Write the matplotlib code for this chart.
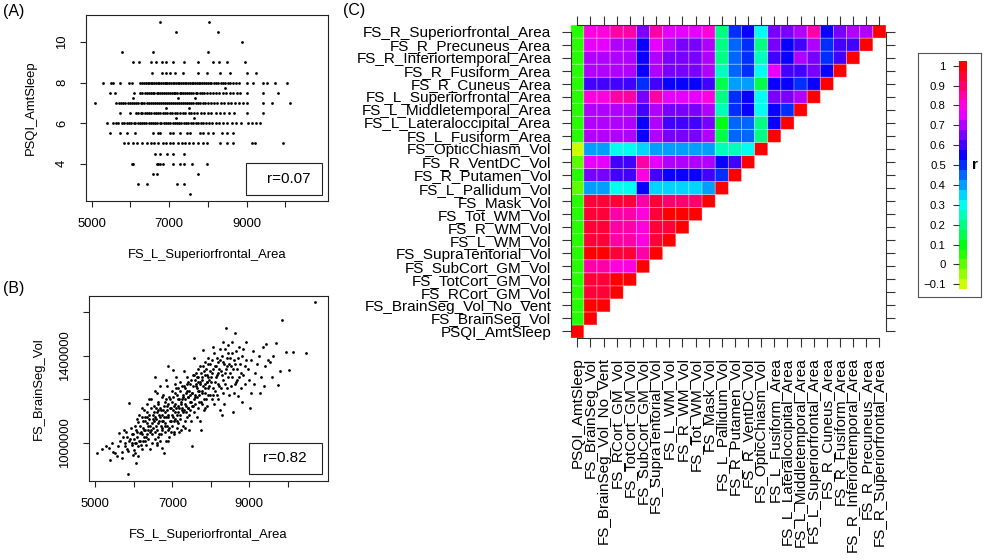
import numpy as np
import matplotlib
matplotlib.use('Agg')
import matplotlib.pyplot as plt
from matplotlib import colors
from matplotlib.patches import Rectangle

plt.rcParams['font.family'] = ['Liberation Sans', 'DejaVu Sans']

# (A) PSQI_AmtSleep against FS_L_Superiorfrontal_Area, x values read per sleep level
sleep_levels = [11, 10.5, 10, 9.5, 9, 8.5, 8, 7.75, 7.5, 7.25, 7, 6.75, 6.5, 6.25,
                6, 5.5, 5, 4.5, 4, 3.5, 3, 2.5]
area_by_level = [
    [6760, 8040],
    [7170, 8270],
    [8890],
    [5770, 6590, 8010],
    [6075, 6230, 6520, 6660, 6810, 6930, 7090, 7370, 7750, 8140, 8290, 8480, 8960],
    [6550, 6810, 6930, 7020, 7150, 7350, 7750, 7970, 8310, 8570, 9000, 9240],
    [5300, 5490, 5560, 5730, 5950, 6030, 6250, 6300, 6340, 6390, 6450, 6480, 6530,
     6560, 6610, 6650, 6700, 6740, 6790, 6830, 6880, 6920, 6950, 7000, 7040, 7090,
     7130, 7180, 7220, 7260, 7310, 7350, 7400, 7440, 7490, 7530, 7580, 7620, 7660,
     7710, 7760, 7800, 7850, 7900, 7940, 7990, 8050, 8090, 8160, 8220, 8270, 8330,
     8390, 8450, 8520, 8580, 8650, 8730, 8800, 9000, 9170, 9430, 9520, 9730, 10030],
    [8440],
    [5470, 5600, 6080, 6250, 6310, 6370, 6420, 6470, 6530, 6570, 6620, 6680, 6720,
     6770, 6820, 6870, 6910, 6960, 7010, 7070, 7120, 7160, 7210, 7270, 7310, 7360,
     7420, 7460, 7510, 7570, 7620, 7680, 7730, 7790, 7850, 7910, 7980, 8060, 8130,
     8200, 8290, 8380, 8470, 8560, 8650, 8740, 8830, 9000, 9430, 9820],
    [6060, 7240, 7670],
    [5090, 5640, 5700, 5760, 5820, 5870, 5930, 5990, 6040, 6100, 6150, 6200, 6260,
     6310, 6360, 6420, 6470, 6520, 6570, 6630, 6680, 6730, 6780, 6840, 6890, 6940,
     6990, 7050, 7100, 7150, 7200, 7260, 7310, 7360, 7410, 7470, 7520, 7570, 7620,
     7680, 7740, 7800, 7870, 7930, 8000, 8080, 8160, 8240, 8330, 8420, 8510, 8600,
     8700, 8800, 8900, 9000, 9430, 9650, 10120],
    [6920, 7500],
    [5730, 5990, 6140, 6200, 6260, 6310, 6370, 6420, 6480, 6540, 6600, 6650, 6710,
     6770, 6830, 6890, 6950, 7010, 7080, 7150, 7210, 7280, 7350, 7420, 7500, 7570,
     7650, 7730, 7810, 7900, 7990, 8090, 8200, 8310, 8420, 8540, 8660, 9000, 9430],
    [7170, 7640],
    [5390, 5560, 5620, 5690, 5770, 5840, 5900, 5960, 6020, 6080, 6130, 6190, 6250,
     6300, 6360, 6410, 6470, 6520, 6580, 6640, 6690, 6750, 6800, 6860, 6920, 6970,
     7030, 7090, 7140, 7200, 7260, 7310, 7370, 7430, 7490, 7550, 7610, 7680, 7740,
     7810, 7880, 7950, 8030, 8110, 8200, 8290, 8390, 8500, 8620, 8730, 8840, 9040,
     9130, 9230, 9340],
    [5473, 5731, 5903, 6118, 6591, 6720, 6763, 7021, 7107, 7279, 7451, 7537, 7795,
     7881, 8010, 8139, 8354, 8483, 8655],
    [5834, 5946, 6058, 6161, 6290, 6419, 6523, 6609, 6720, 6832, 6918, 7021, 7107,
     7219, 7322, 7417, 7520, 7623, 7752, 7864, 7968, 8312, 8484, 8656, 9129, 9215, 9946],
    [6634, 6763, 6935, 7107, 7383],
    [6032, 6075, 6677, 6720, 6763, 6849, 7107, 7279, 7383, 7581, 7985],
    [6574, 6677, 7752],
    [6204, 6437, 7193, 7391],
    [7537],
]
r_sleep = 0.07

# (B) FS_BrainSeg_Vol (thousands) against FS_L_Superiorfrontal_Area
area_vol_pairs = [
    (5052, 954), (5286, 989), (5180, 975), (5390, 924), (5350, 980), (5450, 960),
    (5420, 1000), (5503, 954), (5563, 939), (5600, 985), (5650, 1010), (5700, 960),
    (5620, 1045), (5720, 1030), (5680, 930), (5850, 859), (5876, 1183), (5780, 1000),
    (5800, 1050), (5830, 975), (5900, 1020), (5950, 990), (5920, 1070), (5970, 945),
    (5880, 1010), (5990, 1040), (6066, 909), (6020, 1000), (6050, 1060), (6080, 1030),
    (6100, 985), (6120, 1095), (6150, 1045), (6170, 1010), (6200, 1120), (6220, 975),
    (6240, 1070), (6030, 955), (6130, 1130), (6190, 1050), (6110, 940), (6260, 1030),
    (6280, 1100), (6300, 1060), (6320, 990), (6340, 1140), (6360, 1080), (6380, 1020),
    (6400, 1110), (6420, 1050), (6440, 1160), (6460, 1000), (6480, 1090), (6300, 1010),
    (6350, 1120), (6410, 975), (6450, 1060), (6490, 1130), (6270, 1150), (6330, 1040),
    (6390, 1200), (6543, 1304), (6510, 1070), (6530, 1140), (6560, 1020), (6580, 1110),
    (6600, 1060), (6620, 1180), (6640, 1090), (6660, 1130), (6680, 1010), (6700, 1150),
    (6720, 1070), (6740, 1210), (6520, 1100), (6570, 1160), (6610, 990), (6650, 1040),
    (6690, 1120), (6730, 1100), (6590, 1230), (6710, 1040), (6630, 1150), (6786, 954),
    (6890, 1350), (6760, 1100), (6780, 1170), (6800, 1050), (6820, 1140), (6840, 1200),
    (6860, 1080), (6880, 1120), (6900, 1180), (6920, 1030), (6940, 1160), (6960, 1100),
    (6980, 1240), (6770, 1220), (6810, 1090), (6850, 1150), (6870, 1260), (6910, 1070),
    (6950, 1200), (6990, 1130), (6830, 1010), (6970, 1050), (7020, 1332), (7010, 1150),
    (7030, 1210), (7050, 1100), (7070, 1180), (7090, 1250), (7110, 1130), (7130, 1070),
    (7150, 1200), (7170, 1160), (7190, 1280), (7210, 1110), (7230, 1190), (7040, 1050),
    (7080, 1140), (7120, 1220), (7160, 1090), (7200, 1240), (7240, 1150), (7060, 1270),
    (7140, 1170), (7220, 1060), (7100, 1300), (7260, 1200), (7280, 1140), (7300, 1260),
    (7320, 1180), (7340, 1100), (7360, 1230), (7380, 1300), (7400, 1160), (7420, 1210),
    (7440, 1130), (7460, 1270), (7480, 1190), (7270, 1080), (7310, 1330), (7350, 1170),
    (7390, 1240), (7430, 1060), (7470, 1220), (7290, 1210), (7410, 1280), (7450, 1150),
    (7370, 1120), (7514, 985), (7566, 1388), (7520, 1230), (7540, 1170), (7580, 1290),
    (7600, 1210), (7620, 1320), (7640, 1250), (7660, 1160), (7680, 1280), (7700, 1220),
    (7720, 1350), (7740, 1190), (7530, 1310), (7570, 1140), (7610, 1260), (7650, 1300),
    (7690, 1240), (7730, 1100), (7560, 1200), (7670, 1340), (7710, 1280), (7800, 1426),
    (7740, 1061), (7760, 1300), (7780, 1240), (7820, 1330), (7840, 1270), (7860, 1370),
    (7880, 1200), (7900, 1310), (7920, 1250), (7940, 1360), (7960, 1290), (7980, 1220),
    (7770, 1180), (7810, 1350), (7850, 1230), (7890, 1280), (7930, 1390), (7970, 1330),
    (7830, 1150), (7910, 1170), (8010, 1300), (8030, 1380), (8050, 1250), (8070, 1340),
    (8090, 1410), (8110, 1280), (8130, 1350), (8150, 1220), (8170, 1390), (8190, 1320),
    (8210, 1260), (8230, 1430), (8020, 1200), (8080, 1180), (8140, 1300), (8200, 1370),
    (8240, 1150), (8060, 1440), (8303, 1129), (8390, 1525), (8260, 1330), (8280, 1400),
    (8320, 1290), (8340, 1360), (8360, 1430), (8380, 1270), (8400, 1340), (8420, 1390),
    (8440, 1300), (8460, 1450), (8480, 1220), (8270, 1250), (8350, 1180), (8410, 1250),
    (8470, 1360), (8310, 1460), (8580, 1144), (8641, 1502), (8711, 1213), (8520, 1350),
    (8540, 1410), (8560, 1300), (8600, 1380), (8620, 1270), (8660, 1420), (8680, 1340),
    (8700, 1390), (8740, 1300), (8550, 1460), (8610, 1230), (8690, 1290), (8730, 1440),
    (8927, 1464), (8760, 1360), (8800, 1400), (8840, 1310), (8880, 1270), (8920, 1380),
    (8960, 1340), (8780, 1250), (8850, 1430), (8990, 1290), (8820, 1190), (9031, 1160),
    (9057, 1228), (9378, 1259), (9448, 1452), (9050, 1380), (9100, 1420), (9150, 1320),
    (9200, 1360), (9250, 1400), (9300, 1300), (9350, 1440), (9420, 1350), (9480, 1380),
    (9120, 1270), (9280, 1230), (9690, 1459), (9855, 1563), (9950, 1414), (10037, 1332),
    (10141, 1418), (10488, 1411), (9751, 1266), (9550, 1370), (9620, 1400), (9800, 1330),
    (9580, 1300), (10700, 1644),
    (6010, 1020), (6040, 1080), (6060, 1000), (6090, 1050), (6140, 1010), (6160, 1080),
    (6180, 990), (6210, 1040), (6230, 1100), (6250, 1010), (6270, 1060), (6290, 1120),
    (6310, 1030), (6330, 1090), (6370, 1060), (6390, 1130), (6430, 1080), (6470, 1040),
    (6500, 1110), (6520, 1170), (6540, 1050), (6560, 1120), (6580, 1080), (6600, 1140),
    (6620, 1030), (6640, 1190), (6660, 1100), (6680, 1160), (6700, 1080), (6720, 1130),
    (6740, 1060), (6760, 1150), (6780, 1120), (6800, 1190), (6820, 1080), (6840, 1120),
    (6860, 1170), (6880, 1060), (6900, 1130), (6920, 1210), (6940, 1100), (6960, 1160),
    (6980, 1080), (7000, 1190), (7020, 1120), (7040, 1170), (7060, 1110), (7080, 1230),
    (7100, 1160), (7120, 1100), (7140, 1250), (7160, 1140), (7180, 1200), (7200, 1130),
    (7220, 1180), (7240, 1260), (7260, 1160), (7280, 1220), (7300, 1150), (7320, 1250),
    (7340, 1200), (7360, 1140), (7380, 1270), (7400, 1210), (7420, 1160), (7440, 1240),
    (7460, 1190), (7480, 1290), (7500, 1230), (7520, 1170), (7540, 1260), (7560, 1310),
    (7580, 1220), (7600, 1180), (7620, 1270), (7640, 1210), (7660, 1300), (7680, 1240),
    (7700, 1190), (7720, 1270), (7740, 1320), (7760, 1230), (7780, 1290), (7800, 1260),
    (7820, 1200), (7840, 1310), (7860, 1250), (7880, 1340), (7900, 1280), (7920, 1220),
    (7940, 1300), (7960, 1260), (7980, 1360), (8000, 1280), (8040, 1320), (8100, 1350),
    (8120, 1240), (8160, 1310), (8180, 1270), (8220, 1340), (8250, 1380), (8290, 1310),
    (8330, 1370), (8370, 1320), (8430, 1350), (8450, 1410), (8490, 1320), (8510, 1390),
    (8570, 1340), (8630, 1360), (5760, 985), (5810, 1030), (5860, 965), (5940, 1040),
    (5960, 1000), (6000, 970), (5740, 1060), (6070, 1110), (6210, 1160), (6350, 1180),
    (6450, 1200), (6550, 1240), (6680, 1260), (6830, 1290), (6720, 980), (6600, 1000),
    (6880, 1010), (7050, 1040), (7180, 1050), (7330, 1070), (7490, 1100), (7640, 1120),
    (7860, 1160), (8060, 1220), (8190, 1200), (8320, 1230), (8520, 1260), (8660, 1280),
    (8780, 1320), (8900, 1350),
]
r_brain = 0.82

# (C) correlation matrix, lower triangle; row i holds r with variables 0..i
var_names = ['PSQI_AmtSleep', 'FS_BrainSeg_Vol', 'FS_BrainSeg_Vol_No_Vent',
             'FS_RCort_GM_Vol', 'FS_TotCort_GM_Vol', 'FS_SubCort_GM_Vol',
             'FS_SupraTentorial_Vol', 'FS_L_WM_Vol', 'FS_R_WM_Vol', 'FS_Tot_WM_Vol',
             'FS_Mask_Vol', 'FS_L_Pallidum_Vol', 'FS_R_Putamen_Vol', 'FS_R_VentDC_Vol',
             'FS_OpticChiasm_Vol', 'FS_L_Fusiform_Area', 'FS_L_Lateraloccipital_Area',
             'FS_L_Middletemporal_Area', 'FS_L_Superiorfrontal_Area', 'FS_R_Cuneus_Area',
             'FS_R_Fusiform_Area', 'FS_R_Inferiortemporal_Area', 'FS_R_Precuneus_Area',
             'FS_R_Superiorfrontal_Area']
corr_rows = [
    [1.0],
    [0.06, 1.0],
    [0.06, 0.99, 1.0],
    [0.05, 0.94, 0.94, 1.0],
    [0.05, 0.94, 0.94, 0.99, 1.0],
    [0.05, 0.85, 0.85, 0.78, 0.78, 1.0],
    [0.06, 0.98, 0.98, 0.95, 0.95, 0.84, 1.0],
    [0.05, 0.94, 0.94, 0.83, 0.83, 0.81, 0.94, 1.0],
    [0.05, 0.94, 0.94, 0.83, 0.83, 0.81, 0.94, 0.97, 1.0],
    [0.05, 0.94, 0.94, 0.83, 0.83, 0.82, 0.95, 0.98, 0.98, 1.0],
    [0.06, 0.95, 0.95, 0.93, 0.93, 0.83, 0.95, 0.9, 0.9, 0.9, 1.0],
    [0.02, 0.4, 0.38, 0.3, 0.3, 0.54, 0.36, 0.36, 0.36, 0.36, 0.38, 1.0],
    [0.03, 0.65, 0.65, 0.58, 0.58, 0.82, 0.59, 0.56, 0.56, 0.56, 0.58, 0.5, 1.0],
    [0.02, 0.73, 0.73, 0.61, 0.61, 0.85, 0.73, 0.72, 0.72, 0.72, 0.72, 0.54, 0.61, 1.0],
    [-0.08, 0.4, 0.38, 0.3, 0.3, 0.35, 0.38, 0.4, 0.4, 0.4, 0.42, 0.25, 0.23, 0.3, 1.0],
    [0.05, 0.7, 0.7, 0.7, 0.7, 0.55, 0.7, 0.63, 0.63, 0.63, 0.68, 0.17, 0.45, 0.47,
     0.22, 1.0],
    [0.06, 0.68, 0.68, 0.68, 0.68, 0.54, 0.68, 0.61, 0.61, 0.61, 0.65, 0.12, 0.43, 0.43,
     0.2, 0.54, 1.0],
    [0.05, 0.72, 0.72, 0.72, 0.72, 0.58, 0.72, 0.66, 0.66, 0.66, 0.7, 0.23, 0.5, 0.53,
     0.28, 0.56, 0.5, 1.0],
    [0.07, 0.82, 0.82, 0.86, 0.86, 0.65, 0.85, 0.77, 0.77, 0.77, 0.8, 0.22, 0.5, 0.53,
     0.28, 0.63, 0.65, 0.68, 1.0],
    [0.05, 0.6, 0.6, 0.6, 0.6, 0.48, 0.59, 0.55, 0.56, 0.55, 0.59, 0.15, 0.42, 0.42,
     0.15, 0.54, 0.57, 0.48, 0.56, 1.0],
    [0.05, 0.7, 0.7, 0.7, 0.7, 0.56, 0.7, 0.65, 0.65, 0.65, 0.68, 0.23, 0.45, 0.5,
     0.28, 0.74, 0.58, 0.61, 0.66, 0.53, 1.0],
    [0.05, 0.72, 0.72, 0.72, 0.72, 0.56, 0.72, 0.65, 0.64, 0.64, 0.7, 0.22, 0.47, 0.52,
     0.23, 0.58, 0.54, 0.68, 0.63, 0.48, 0.61, 1.0],
    [0.05, 0.73, 0.73, 0.72, 0.72, 0.56, 0.73, 0.68, 0.66, 0.66, 0.7, 0.22, 0.45, 0.52,
     0.22, 0.63, 0.57, 0.58, 0.68, 0.48, 0.61, 0.6, 1.0],
    [0.06, 0.82, 0.82, 0.87, 0.86, 0.65, 0.86, 0.76, 0.76, 0.76, 0.8, 0.22, 0.5, 0.55,
     0.28, 0.63, 0.65, 0.68, 0.86, 0.57, 0.67, 0.68, 0.7, 1.0],
]
cbar_ticks = [-0.1, 0, 0.1, 0.2, 0.3, 0.4, 0.5, 0.6, 0.7, 0.8, 0.9, 1]

W, H = 997, 560
fig = plt.figure(figsize=(W / 100, H / 100), dpi=100)


def box_axes(x0, y0, x1, y1):
    # pixel box (top-left origin) -> figure axes
    return fig.add_axes([x0 / W, 1 - y1 / H, (x1 - x0) / W, (y1 - y0) / H])


def r_style(ax):
    for s in ax.spines.values():
        s.set_linewidth(0.8)
        s.set_color('#222222')
    ax.tick_params(direction='out', length=4, width=0.8, colors='#222222',
                   labelsize=9.4, labelcolor='black')
    ax.tick_params(axis='x', pad=8)
    ax.tick_params(axis='y', pad=9, labelrotation=90)
    for lbl in ax.get_yticklabels():
        lbl.set_va('center')


def r_box(text, x0, y0, x1, y1, tx):
    # legend-like box given in figure pixels
    fig.patches.append(Rectangle((x0 / W, 1 - y1 / H), (x1 - x0) / W, (y1 - y0) / H,
                                 transform=fig.transFigure, fill=False, lw=0.8,
                                 ec='#222222', zorder=5))
    fig.text(tx / W, 1 - (y0 + y1) / 2 / H, text, ha='left', va='center', fontsize=11)


# panel A
axA = box_axes(86, 15, 328, 201)
xs = [x for lvl, row in zip(sleep_levels, area_by_level) for x in row]
ys = [lvl for lvl, row in zip(sleep_levels, area_by_level) for _ in row]
axA.scatter(xs, ys, s=4, c='black', linewidths=0)
axA.set_xlim(4853, 11098)
axA.set_ylim(2.16, 11.34)
axA.set_xticks([5000, 6000, 7000, 8000, 9000, 10000])
axA.set_xticklabels(['5000', '', '7000', '', '9000', ''])
axA.set_yticks([4, 6, 8, 10])
axA.set_yticklabels(['4', '6', '8', '10'])
r_style(axA)
axA.set_xlabel('FS_L_Superiorfrontal_Area', fontsize=9.4, labelpad=14)
axA.set_ylabel('PSQI_AmtSleep', fontsize=9.4, labelpad=14)
r_box('r=%.2f' % r_sleep, 246, 163, 322, 195, 267)

# panel B
axB = box_axes(89, 296, 328, 481)
bx = [p[0] for p in area_vol_pairs]
by = [p[1] * 1000 for p in area_vol_pairs]
axB.scatter(bx, by, s=4, c='black', linewidths=0)
axB.set_xlim(4833, 11049)
axB.set_ylim(827000, 1672000)
axB.set_xticks([5000, 6000, 7000, 8000, 9000, 10000])
axB.set_xticklabels(['5000', '', '7000', '', '9000', ''])
axB.set_yticks([1000000, 1200000, 1400000, 1600000])
axB.set_yticklabels(['1000000', '', '1400000', ''])
r_style(axB)
axB.set_xlabel('FS_L_Superiorfrontal_Area', fontsize=9.4, labelpad=14)
axB.set_ylabel('FS_BrainSeg_Vol', fontsize=9.4, labelpad=10)
r_box('r=%.2f' % r_brain, 249, 443, 322, 474, 263)

# panel C heatmap
n = len(var_names)
mat = np.full((n, n), np.nan)
for i, row in enumerate(corr_rows):
    mat[i, :len(row)] = row
bounds = np.linspace(-0.125, 1.025, 24)
centers = (bounds[:-1] + bounds[1:]) / 2
hues = (0.2 + (centers + 0.1) / 1.1 * 0.8) % 1.0
band_cols = colors.hsv_to_rgb(np.column_stack([hues, np.ones(23), np.ones(23)]))
cmap = colors.ListedColormap(band_cols)
norm = colors.BoundaryNorm(bounds, cmap.N)

axC = box_axes(570.7, 25, 886, 338)
edges = np.arange(n + 1) - 0.5
axC.pcolor(edges, edges, np.ma.masked_invalid(mat), cmap=cmap, norm=norm,
           edgecolors=(1, 1, 1, 0.35), linewidth=0.6)
axC.set_xlim(-0.5, n - 0.5)
axC.set_ylim(-0.5, n - 0.5)
axC.set_xticks(range(n))
axC.set_yticks(range(n))
axC.set_xticklabels(var_names, rotation=90, fontsize=11)
axC.set_yticklabels(var_names, fontsize=11)
axC.tick_params(direction='out', length=6.5, width=0.8, colors='#333333',
                labelcolor='black', pad=7.5, top=True, right=True)
for s in axC.spines.values():
    s.set_bounds(0, n - 1)
    s.set_linewidth(0.8)
    s.set_color('#333333')

# colour key
axF = box_axes(918, 53, 981, 297)
axF.set_xticks([])
axF.set_yticks([])
for s in axF.spines.values():
    s.set_linewidth(0.8)
    s.set_color('#555555')
axS = box_axes(959, 60.7, 967, 289.3)
axS.pcolormesh([0, 1], bounds, centers.reshape(-1, 1), cmap=cmap, norm=norm)
axS.set_xlim(0, 1)
axS.set_ylim(bounds[0], bounds[-1])
axS.set_xticks([])
axS.set_yticks(cbar_ticks)
axS.set_yticklabels(['\u22120.1' if t < 0 else ('%g' % t) for t in cbar_ticks],
                    fontsize=8.2)
axS.tick_params(axis='y', direction='out', length=4.5, width=0.8, pad=5,
                colors='#333333', labelcolor='black')
for s in axS.spines.values():
    s.set_visible(False)
fig.text(972 / W, 1 - 165 / H, 'r', fontsize=11, fontweight='bold', va='center')

fig.text(3 / W, 1 - 4 / H, '(A)', fontsize=11.5, va='top')
fig.text(3 / W, 1 - 281 / H, '(B)', fontsize=11.5, va='top')
fig.text(343 / W, 1 - 3 / H, '(C)', fontsize=11.5, va='top')

fig.savefig('out.png', dpi=100)
